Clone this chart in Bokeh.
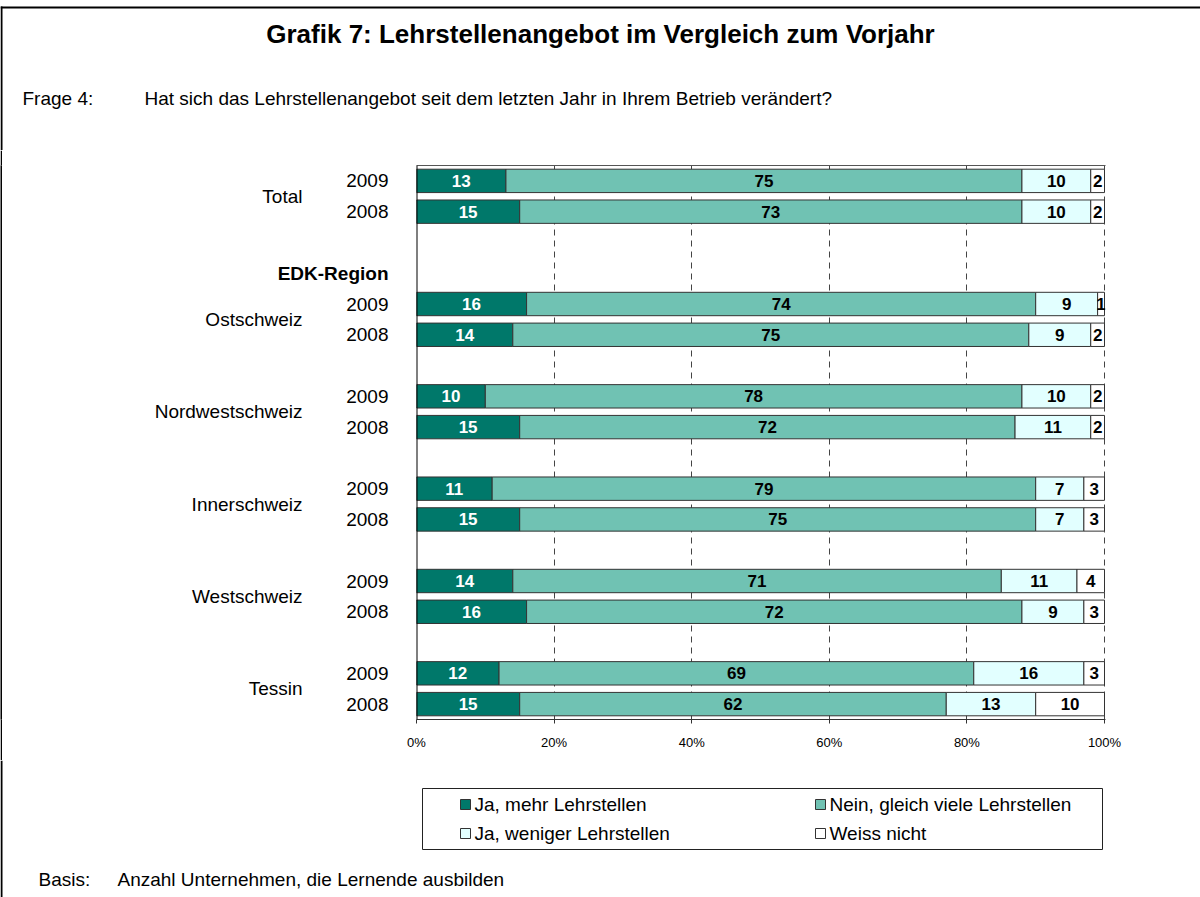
import numpy as np
from bokeh.plotting import figure
from bokeh.layouts import column, row
from bokeh.models import (FactorRange, Range1d, LinearAxis, ColumnDataSource, FixedTicker, Span)
from bokeh.embed import file_html
from bokeh.resources import INLINE
from bokeh.core.properties import value

# ---------------- data ----------------
title_text = "Grafik 7: Lehrstellenangebot im Vergleich zum Vorjahr"
question_label = "Frage 4:"
question_text = "Hat sich das Lehrstellenangebot seit dem letzten Jahr in Ihrem Betrieb verändert?"
basis_label = "Basis:"
basis_text = "Anzahl Unternehmen, die Lernende ausbilden"
group_header = "EDK-Region"

regions = ["Total", "Ostschweiz", "Nordwestschweiz", "Innerschweiz", "Westschweiz", "Tessin"]
years = ["2009", "2008"]
series_names = ["Ja, mehr Lehrstellen", "Nein, gleich viele Lehrstellen",
                "Ja, weniger Lehrstellen", "Weiss nicht"]
# order: Total 2009, Total 2008, Ostschweiz 2009, Ostschweiz 2008, ...
ja_mehr = [13, 15, 16, 14, 10, 15, 11, 15, 14, 16, 12, 15]
nein_gleich = [75, 73, 74, 75, 78, 72, 79, 75, 71, 72, 69, 62]
ja_weniger = [10, 10, 9, 9, 10, 11, 7, 7, 11, 9, 16, 13]
weiss_nicht = [2, 2, 1, 2, 2, 2, 3, 3, 4, 3, 3, 10]
x_ticks = [0, 20, 40, 60, 80, 100]

# ---------------- styling / layout ----------------
FONT = "Liberation Sans"
colors = ["#00786A", "#70C2B3", "#E2FFFF", "#FFFFFF"]
text_colors = ["white", "black", "black", "black"]
keys = ["ja_mehr", "nein_gleich", "ja_weniger", "weiss_nicht"]
BAR_LINE = "#333333"

PAGE_W = 1200
HEAD_H, MID_H, FOOT_H = 150, 610, 137
STRIPE_W = 2
LEFT_W = 398
MAIN_X0 = STRIPE_W + LEFT_W
MAIN_W = PAGE_W - MAIN_X0
FRAME_L, FRAME_R = 416, 1104          # page x of 0% and 100%
FRAME_T, FRAME_B = 165, 719           # page y of plot frame
EXTRA = 1                              # 1px so the 100% gridline is not clipped

bar_rows = [f"{r}|{y}" for r in regions for y in years]
rows = []
for i, r in enumerate(regions):
    rows += [f"{r}|{y}" for y in years]
    if i == 0:
        rows += ["gap0", group_header]
    elif i < len(regions) - 1:
        rows.append(f"gap{i}")
factors = rows[::-1]  # first factor at the bottom
y_range = FactorRange(factors=factors, range_padding=0, factor_padding=0)


def blank_fig(w, h, xr, yr, bg="white"):
    f = figure(width=w, height=h, x_range=xr, y_range=yr, output_backend="svg",
               toolbar_location=None, x_axis_type=None, y_axis_type=None,
               min_border_left=0, min_border_right=0, min_border_top=0, min_border_bottom=0)
    f.outline_line_color = None
    f.grid.visible = False
    f.background_fill_color = bg
    f.border_fill_color = bg
    return f


def txt(f, x, y, s, size, bold=False, align="left", color="black"):
    f.text(x=[x], y=[y], text=[s], text_font=value(FONT), text_font_size=size,
           text_font_style="bold" if bold else "normal", text_align=align,
           text_baseline="middle", text_color=color)

# ---------------- main chart ----------------
frame_w = FRAME_R - FRAME_L
main = figure(width=MAIN_W, height=MID_H,
              x_range=Range1d(0, x_ticks[-1] * (frame_w + EXTRA) / frame_w), y_range=y_range,
              output_backend="svg", toolbar_location=None,
              min_border_left=FRAME_L - MAIN_X0,
              min_border_right=PAGE_W - FRAME_R - EXTRA,
              min_border_top=FRAME_T - HEAD_H,
              min_border_bottom=HEAD_H + MID_H - FRAME_B)
main.outline_line_color = None
main.background_fill_color = "white"
main.border_fill_color = "white"

main.ygrid.grid_line_color = None
main.xgrid.ticker = FixedTicker(ticks=x_ticks[1:])
main.xgrid.grid_line_color = "#444444"
main.xgrid.grid_line_dash = "6 5"
main.xgrid.grid_line_width = 1

src = ColumnDataSource(dict(row=bar_rows, ja_mehr=ja_mehr, nein_gleich=nein_gleich,
                            ja_weniger=ja_weniger, weiss_nicht=weiss_nicht))
renderers = main.hbar_stack(keys, y="row", height=0.76, color=colors,
                            line_color=BAR_LINE, line_width=1, source=src)

vals = np.array([ja_mehr, nein_gleich, ja_weniger, weiss_nicht], dtype=float)
starts = np.cumsum(vals, axis=0) - vals
lx, ly, lt, lc = [], [], [], []
for k in range(vals.shape[0]):
    for j in range(vals.shape[1]):
        lx.append(starts[k, j] + vals[k, j] / 2)
        ly.append(bar_rows[j])
        lt.append(str(int(vals[k, j])))
        lc.append(text_colors[k])
main.text(x="x", y="y", text="text", text_color="color",
          source=ColumnDataSource(dict(x=lx, y=ly, text=lt, color=lc)),
          text_align="center", text_baseline="middle", text_font=value(FONT),
          text_font_style="bold", text_font_size="17px")

main.xaxis.ticker = FixedTicker(ticks=x_ticks)
main.xaxis.major_label_overrides = {t: f"{t}%" for t in x_ticks}
main.xaxis.major_label_text_font = FONT
main.xaxis.major_label_text_font_size = "13px"
main.xaxis.major_label_text_color = "black"
main.xaxis.major_tick_in = 0
main.xaxis.major_tick_out = 4
main.xaxis.major_label_standoff = 11
main.xaxis.minor_tick_line_color = None
main.xaxis.axis_line_color = "#333333"
main.xaxis.major_tick_line_color = "#333333"

top_axis = LinearAxis(ticker=FixedTicker(ticks=[]), major_tick_line_color=None,
                      minor_tick_line_color=None, axis_line_color="#555555")
main.add_layout(top_axis, "above")

# category axis line (labels are drawn in the left panel)
main.yaxis.visible = False
main.add_layout(Span(location=0, dimension="height", line_color="black", line_width=2))

# ---------------- left labels (share the main factor range) ----------------
left = blank_fig(LEFT_W, MID_H, Range1d(STRIPE_W, MAIN_X0), y_range)
yr_t = [r.split("|")[1] for r in bar_rows]
left.text(x=[FRAME_L - 28] * len(bar_rows), y=bar_rows, text=yr_t, text_font=value(FONT),
          text_font_size="19px", text_align="right", text_baseline="middle", text_color="black")
reg_y = [factors.index(f"{r}|2008") + 1 for r in regions]
left.text(x=[302] * len(regions), y=reg_y, text=regions, text_font=value(FONT),
          text_font_size="19px", text_align="right", text_baseline="middle", text_color="black")
left.text(x=[FRAME_L - 28], y=[group_header], text=[group_header], text_font=value(FONT),
          text_font_size="19px", text_font_style="bold", text_align="right",
          text_baseline="middle", text_color="black")

stripe = blank_fig(STRIPE_W, MID_H, Range1d(0, 1), Range1d(0, 1), bg="black")

# ---------------- header ----------------
head = blank_fig(PAGE_W, HEAD_H, Range1d(0, PAGE_W), Range1d(HEAD_H, 0))
head.quad(left=[0, 0], right=[PAGE_W, 2], top=[6, 6], bottom=[8, HEAD_H],
          fill_color="black", line_color=None)
txt(head, 600, 33, title_text, "26px", bold=True, align="center")
txt(head, 22, 98, question_label, "19px")
txt(head, 144, 98, question_text, "19px")

# ---------------- footer with legend ----------------
foot = blank_fig(PAGE_W, FOOT_H, Range1d(0, PAGE_W), Range1d(FOOT_H, 0))
y0 = HEAD_H + MID_H
foot.quad(left=[0], right=[2], top=[0], bottom=[FOOT_H], fill_color="black", line_color=None)
foot.quad(left=[422], right=[1102], top=[788 - y0], bottom=[849 - y0],
          fill_color=None, line_color="#222222", line_width=1)
txt(foot, 38, 879 - y0, basis_label, "19px")
txt(foot, 117, 879 - y0, basis_text, "19px")

leg_col_x = [465, 820]
leg_row_y = [804 - y0, 833 - y0]
sq_x = [leg_col_x[i % 2] for i in range(len(series_names))]
sq_y = [leg_row_y[i // 2] for i in range(len(series_names))]
foot.rect(x=sq_x, y=sq_y, width=10, height=10, fill_color=colors, line_color=BAR_LINE,
          line_width=1)
foot.text(x=[x + 9 for x in sq_x], y=sq_y, text=series_names, text_font=value(FONT),
          text_font_size="19px", text_align="left", text_baseline="middle", text_color="black")

layout = column(head, row(stripe, left, main), foot)
open("out.html", "w").write(file_html(layout, INLINE))
